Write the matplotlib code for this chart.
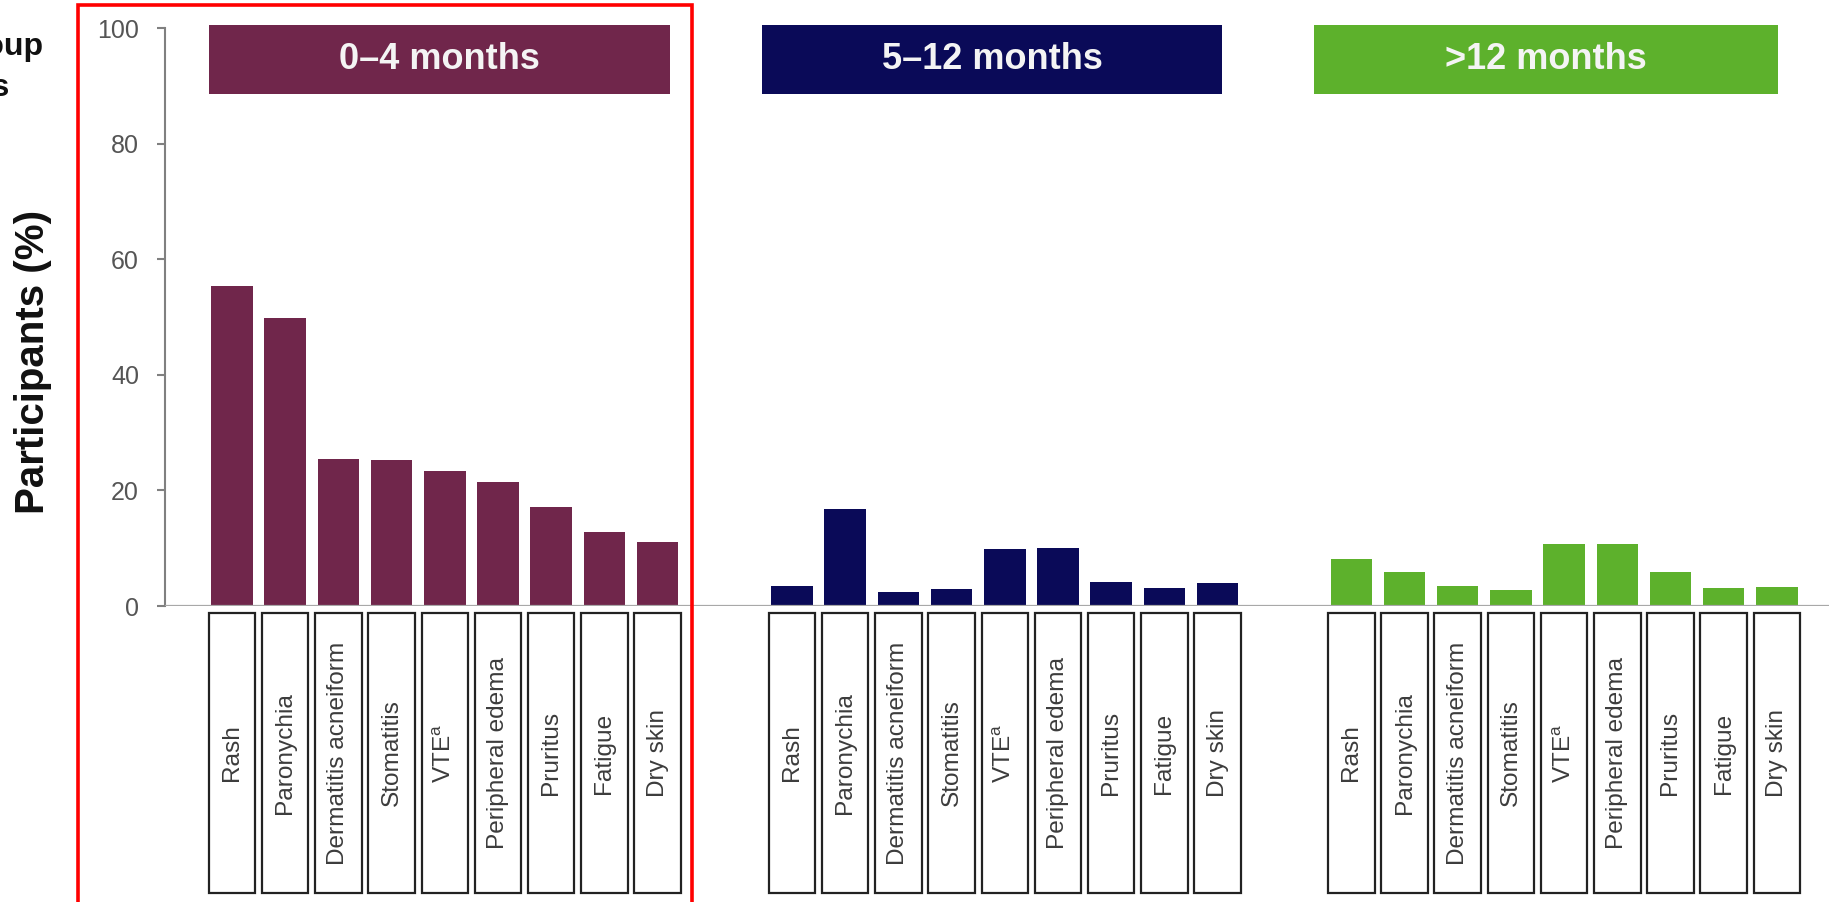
import matplotlib
matplotlib.use("Agg")
import matplotlib.pyplot as plt
from matplotlib.patches import Rectangle

plt.rcParams['font.family'] = ['Liberation Sans', 'DejaVu Sans']
plt.rcParams['mathtext.fontset'] = 'custom'
plt.rcParams['mathtext.rm'] = 'Liberation Sans'

# ---- data -------------------------------------------------------------
categories = ["Rash", "Paronychia", "Dermatitis acneiform", "Stomatitis",
              r"VTE$^{\mathrm{a}}$", "Peripheral edema", "Pruritus", "Fatigue", "Dry skin"]
group_titles = ["0\u20134 months", "5\u201312 months", ">12 months"]
onset_0_4 = [55.4, 49.9, 25.4, 25.3, 23.4, 21.4, 17.2, 12.8, 11.0]
onset_5_12 = [3.5, 16.7, 2.4, 2.9, 9.8, 10.1, 4.2, 3.2, 3.9]
onset_gt12 = [8.1, 5.8, 3.5, 2.8, 10.7, 10.8, 5.9, 3.2, 3.3]
yticks = [0, 20, 40, 60, 80, 100]

series = [onset_0_4, onset_5_12, onset_gt12]
colors = ["#70264b", "#0a0a58", "#5db12c"]

# ---- layout (x in figure pixels) -------------------------------------
W, H, DPI = 1829, 902, 100
group_first = [232.0, 792.0, 1351.3]
step = 53.2
bar_width = 41.5
box_width = 46.5
title_span = [(209, 670), (762, 1222), (1314, 1778)]

fig = plt.figure(figsize=(W / DPI, H / DPI), dpi=DPI)
ax_left, ax_right = 165, W
y0_px, y100_px = 606, 28
ax = fig.add_axes([ax_left / W, 1 - y0_px / H, (ax_right - ax_left) / W, (y0_px - y100_px) / H])
ax.set_xlim(ax_left, ax_right)
ax.set_ylim(0, 100)
px_per_unit = (y0_px - y100_px) / 100.0


def py_to_data(py):
    return (y0_px - py) / px_per_unit


for g, vals in enumerate(series):
    xs = [group_first[g] + i * step for i in range(len(vals))]
    ax.bar(xs, vals, width=bar_width, color=colors[g], zorder=3)

    # category boxes below the baseline
    b_top, b_bot = py_to_data(613), py_to_data(893)
    for x, label in zip(xs, categories):
        ax.add_patch(Rectangle((x - box_width / 2, b_bot), box_width, b_top - b_bot,
                               facecolor="white", edgecolor="#222222", lw=1.6,
                               clip_on=False, zorder=2))
        ax.text(x, (b_top + b_bot) / 2, label, rotation=90, ha="center", va="center",
                fontsize=17.6, color="#3c3c3c", clip_on=False)

    # group header
    t_top, t_bot = py_to_data(25), py_to_data(94)
    x0, x1 = title_span[g]
    ax.add_patch(Rectangle((x0, t_bot), x1 - x0, t_top - t_bot, facecolor=colors[g],
                           edgecolor="none", clip_on=False, zorder=2))
    ax.text((x0 + x1) / 2, (t_top + t_bot) / 2, group_titles[g], ha="center", va="center",
            fontsize=26, fontweight="bold", color="#f4f4f4", clip_on=False, zorder=4)

# axes styling
ax.axhline(0, color="#a8a8a8", lw=1.6, zorder=4)
for s in ["top", "right", "bottom"]:
    ax.spines[s].set_visible(False)
ax.spines["left"].set_color("#808080")
ax.spines["left"].set_linewidth(1.5)
ax.set_xticks([])
ax.set_yticks(yticks)
ax.tick_params(axis="y", length=5.8, width=1.5, color="#808080", pad=13,
               labelsize=18, labelcolor="#555555")

# y-axis title
fig.text(33 / W, 1 - 362 / H, "Participants (%)", rotation=90, ha="center", va="center",
         fontsize=29, fontweight="bold", color="#111111")

# side caption running off the left edge
fig.text(43 / W, 1 - 47 / H, "Onset group", ha="right", va="center",
         fontsize=23, fontweight="bold", color="#111111")
fig.text(10 / W, 1 - 88 / H, "months", ha="right", va="center",
         fontsize=23, fontweight="bold", color="#111111")

# highlight frame round the first group
fig.patches.append(Rectangle((78 / W, -0.02), (692 - 78) / W, (H - 5) / H + 0.02,
                             transform=fig.transFigure, facecolor="none",
                             edgecolor="#ff0000", lw=2.6, zorder=10))

fig.savefig("out.png", dpi=DPI)
